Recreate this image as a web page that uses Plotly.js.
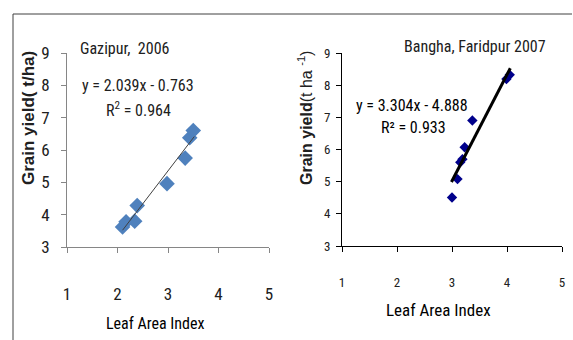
<!DOCTYPE html>
<html><head><meta charset="utf-8">
<script src="https://cdn.plot.ly/plotly-3.0.1.min.js"></script>
<style>html,body{margin:0;padding:0;background:#fff}</style>
</head><body><div id="chart" style="width:573px;height:340px"></div>
<script>
// Gazipur 2006
const laiGazipur = [2.10, 2.17, 2.34, 2.39, 2.98, 3.34, 3.43, 3.50];
const yieldGazipur = [3.62, 3.78, 3.80, 4.28, 4.96, 5.75, 6.38, 6.60];
const trendGazipur = {slope: 2.039, intercept: -0.763, xRange: [2.1, 3.52]};
// Bangha, Faridpur 2007
const laiBangha = [3.00, 3.10, 3.15, 3.19, 3.23, 3.37, 3.99, 4.05];
const yieldBangha = [4.51, 5.08, 5.60, 5.70, 6.07, 6.90, 8.19, 8.32];
const trendBangha = {slope: 3.304, intercept: -4.888, xRange: [2.99, 4.06]};
const xTicks = [1, 2, 3, 4, 5];
const yTicks = [3, 4, 5, 6, 7, 8, 9];

const W = 573, H = 340;
const px = v => v / W, py = v => 1 - v / H;
const narrow = "'Liberation Sans Narrow', 'Arial Narrow', 'Roboto Condensed', sans-serif";
const arial = "'Liberation Sans', Arial, sans-serif";

function trend(t) {
  return {x: t.xRange, y: t.xRange.map(x => t.slope * x + t.intercept)};
}
const tg = trend(trendGazipur), tb = trend(trendBangha);

const traces = [
  {x: laiGazipur, y: yieldGazipur, type: 'scatter', mode: 'markers', xaxis: 'x', yaxis: 'y',
   marker: {symbol: 'diamond', size: 12, color: '#4F81BD'}},
  {x: tg.x, y: tg.y, type: 'scatter', mode: 'lines', xaxis: 'x', yaxis: 'y',
   line: {color: '#404040', width: 1}},
  {x: laiBangha, y: yieldBangha, type: 'scatter', mode: 'markers', xaxis: 'x2', yaxis: 'y2',
   marker: {symbol: 'diamond', size: 8, color: '#00008B'}},
  {x: tb.x, y: tb.y, type: 'scatter', mode: 'lines', xaxis: 'x2', yaxis: 'y2',
   line: {color: '#000000', width: 3}}
];

const baseAxis = {showgrid: false, zeroline: false, showline: true, ticks: 'outside', ticklen: 5, tickwidth: 1, fixedrange: true};

const layout = {
  width: W, height: H, margin: {l: 0, r: 0, t: 0, b: 0},
  paper_bgcolor: '#fff', plot_bgcolor: '#fff', showlegend: false,
  xaxis: Object.assign({}, baseAxis, {domain: [px(67), px(269)], range: [1, 5], tickvals: xTicks,
    linecolor: '#868686', tickcolor: '#868686', anchor: 'y', ticklabelstandoff: 27,
    tickfont: {family: narrow, size: 17, color: '#202020'}}),
  yaxis: Object.assign({}, baseAxis, {domain: [py(247), py(53)], range: [3, 9], tickvals: yTicks,
    linecolor: '#868686', tickcolor: '#868686', anchor: 'x', ticklabelstandoff: 8,
    tickfont: {family: narrow, size: 17, color: '#202020'}}),
  xaxis2: Object.assign({}, baseAxis, {domain: [px(342), px(562)], range: [1, 5], tickvals: xTicks,
    linecolor: '#000', tickcolor: '#000', anchor: 'y2', ticklabelstandoff: 19,
    tickfont: {family: narrow, size: 13, color: '#202020'}}),
  yaxis2: Object.assign({}, baseAxis, {domain: [py(246), py(53)], range: [3, 9], tickvals: yTicks,
    linecolor: '#000', tickcolor: '#000', anchor: 'x2', ticklabelstandoff: 3,
    tickfont: {family: narrow, size: 13, color: '#202020'}}),
  shapes: [
    {type: 'line', xref: 'paper', yref: 'paper', x0: px(13), x1: px(572), y0: py(14), y1: py(14), line: {color: '#404040', width: 1}},
    {type: 'line', xref: 'paper', yref: 'paper', x0: px(13), x1: px(13), y0: py(14), y1: 0, line: {color: '#404040', width: 1}}
  ],
  annotations: [
    {text: 'Gazipur,  2006', xref: 'paper', yref: 'paper', x: px(78), y: py(49), xanchor: 'left', yanchor: 'middle', showarrow: false, font: {family: narrow, size: 16, color: '#202020'}},
    {text: 'y = 2.039x - 0.763', xref: 'paper', yref: 'paper', x: px(138), y: py(85), xanchor: 'center', yanchor: 'middle', showarrow: false, font: {family: narrow, size: 16, color: '#202020'}},
    {text: 'R<sup>2</sup> = 0.964', xref: 'paper', yref: 'paper', x: px(138), y: py(110), xanchor: 'center', yanchor: 'middle', showarrow: false, font: {family: narrow, size: 16, color: '#202020'}},
    {text: 'Leaf Area Index', xref: 'paper', yref: 'paper', x: px(155), y: py(323), xanchor: 'center', yanchor: 'middle', showarrow: false, font: {family: narrow, size: 16, color: '#000'}},
    {text: '<b>Grain yield( t/ha)</b>', xref: 'paper', yref: 'paper', x: px(28), y: py(118), xanchor: 'center', yanchor: 'middle', textangle: -90, showarrow: false, font: {family: arial, size: 17, color: '#202020'}},
    {text: 'Bangha, Faridpur 2007', xref: 'paper', yref: 'paper', x: px(475), y: py(47), xanchor: 'center', yanchor: 'middle', showarrow: false, font: {family: narrow, size: 16, color: '#202020'}},
    {text: 'y = 3.304x - 4.888', xref: 'paper', yref: 'paper', x: px(412), y: py(105), xanchor: 'center', yanchor: 'middle', showarrow: false, font: {family: narrow, size: 16, color: '#000'}},
    {text: 'R² = 0.933', xref: 'paper', yref: 'paper', x: px(413), y: py(127), xanchor: 'center', yanchor: 'middle', showarrow: false, font: {family: narrow, size: 16, color: '#000'}},
    {text: 'Leaf Area Index', xref: 'paper', yref: 'paper', x: px(438), y: py(310), xanchor: 'center', yanchor: 'middle', showarrow: false, font: {family: narrow, size: 17, color: '#000'}},
    {text: '<b>Grain yield</b>(t ha <sup>-1</sup>)', xref: 'paper', yref: 'paper', x: px(305), y: py(118), xanchor: 'center', yanchor: 'middle', textangle: -90, showarrow: false, font: {family: arial, size: 16, color: '#202020'}}
  ]
};

Plotly.newPlot('chart', traces, layout, {staticPlot: true, displayModeBar: false});
</script></body></html>
